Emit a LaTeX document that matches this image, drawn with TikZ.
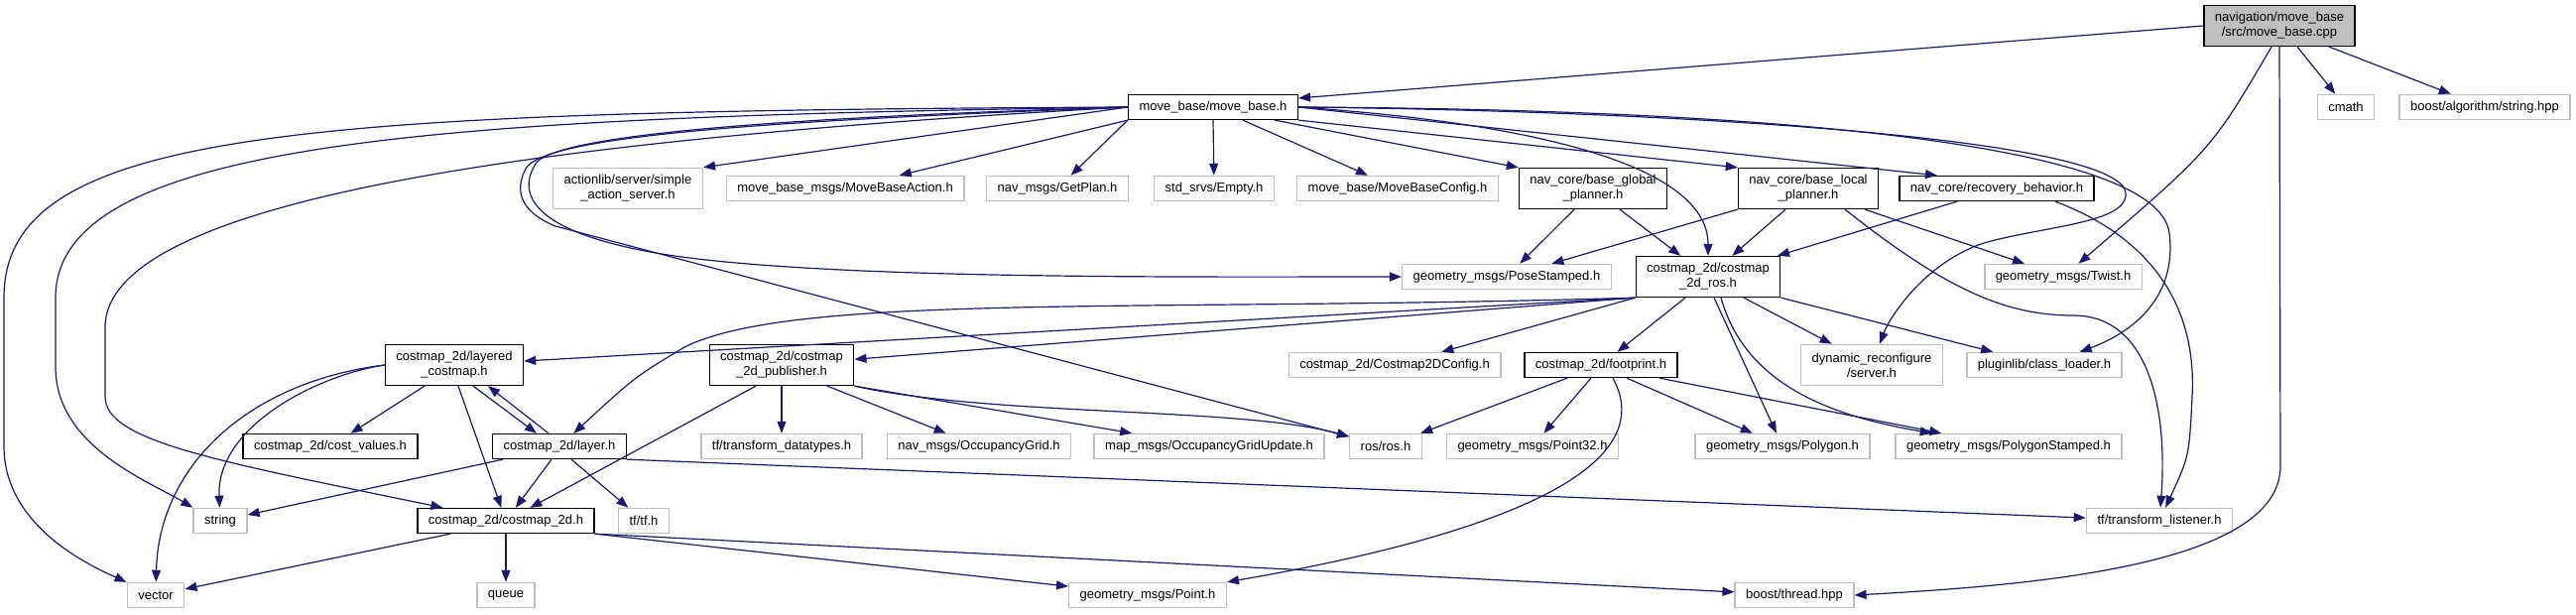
\documentclass[tikz,border=0pt]{standalone}
\usepackage{fontspec}
\setmainfont{Liberation Sans}
\usetikzlibrary{arrows.meta}
\definecolor{edgec}{RGB}{25,25,112}
\definecolor{extc}{RGB}{191,191,191}
\definecolor{rootc}{RGB}{191,191,191}
\begin{document}
\begin{tikzpicture}[x=1pt,y=-1pt,>={Triangle[length=12pt,width=9pt]},font=\fontsize{13}{15}\selectfont]
\tikzset{fb/.style={draw=black,line width=1.3pt,fill=white,inner xsep=11pt,inner ysep=2pt,minimum height=25pt,align=center},
  ext/.style={fb,draw=extc,line width=1.5pt},root/.style={fb,fill=rootc},dbl/.style={minimum height=41pt},
  edge/.style={->,draw=edgec,line width=1.2pt}}
\fill[white] (0,0) rectangle (2597,619);
\useasboundingbox (0,0) rectangle (2597,619);
% files
\node[root,dbl] (cpp) at (2298,26) {navigation/move\_base\\/src/move\_base.cpp};
\node[ext] (cmath) at (2365,108) {cmath};
\node[ext] (bstr) at (2505,108) {boost/algorithm/string.hpp};
\node[fb] (mbh) at (1223,108) {move\_base/move\_base.h};
\node[ext,dbl] (asrv) at (633,190) {actionlib/server/simple\\\_action\_server.h};
\node[ext] (mbact) at (852,190) {move\_base\_msgs/MoveBaseAction.h};
\node[ext] (gplan) at (1066,190) {nav\_msgs/GetPlan.h};
\node[ext] (empty) at (1224,190) {std\_srvs/Empty.h};
\node[ext] (mbcfg) at (1409,190) {move\_base/MoveBaseConfig.h};
\node[fb,dbl] (gplnr) at (1606,190) {nav\_core/base\_global\\\_planner.h};
\node[fb,dbl] (lplnr) at (1823,190) {nav\_core/base\_local\\\_planner.h};
\node[fb] (recov) at (2013,190) {nav\_core/recovery\_behavior.h};
\node[ext] (pose) at (1519,279) {geometry\_msgs/PoseStamped.h};
\node[fb,dbl] (cros) at (1722,279) {costmap\_2d/costmap\\\_2d\_ros.h};
\node[ext] (twist) at (2080,279) {geometry\_msgs/Twist.h};
\node[fb,dbl] (lcost) at (458,368) {costmap\_2d/layered\\\_costmap.h};
\node[fb,dbl] (pub) at (788,368) {costmap\_2d/costmap\\\_2d\_publisher.h};
\node[ext] (c2dcfg) at (1406,368) {costmap\_2d/Costmap2DConfig.h};
\node[fb] (fprint) at (1614,368) {costmap\_2d/footprint.h};
\node[ext,dbl] (dynr) at (1887,368) {dynamic\_reconfigure\\/server.h};
\node[ext] (plug) at (2061,368) {pluginlib/class\_loader.h};
\node[fb] (cval) at (333,450) {costmap\_2d/cost\_values.h};
\node[fb] (layer) at (564,450) {costmap\_2d/layer.h};
\node[ext] (tfdt) at (788,450) {tf/transform\_datatypes.h};
\node[ext] (ogrid) at (987,450) {nav\_msgs/OccupancyGrid.h};
\node[ext] (ogu) at (1219,450) {map\_msgs/OccupancyGridUpdate.h};
\node[ext] (ros) at (1397,450) {ros/ros.h};
\node[ext] (p32) at (1545,450) {geometry\_msgs/Point32.h};
\node[ext] (poly) at (1797,450) {geometry\_msgs/Polygon.h};
\node[ext] (polys) at (2025,450) {geometry\_msgs/PolygonStamped.h};
\node[ext] (str) at (222,525) {string};
\node[fb] (c2d) at (510,525) {costmap\_2d/costmap\_2d.h};
\node[ext] (tftf) at (649,525) {tf/tf.h};
\node[ext] (tfl) at (2177,525) {tf/transform\_listener.h};
\node[ext] (vec) at (157,600) {vector};
\node[ext] (queue) at (510,600) {queue};
\node[ext] (point) at (1157,600) {geometry\_msgs/Point.h};
\node[ext] (thread) at (1809,600) {boost/thread.hpp};
% includes of move_base.cpp
\draw[edge] (cpp.west) -- (mbh.6);
\draw[edge] ([xshift=18pt]cpp.south) -- (cmath);
\draw[edge] ([xshift=50pt]cpp.south) -- (bstr);
\draw[edge] ([xshift=-8pt]cpp.south) .. controls (2230,150) .. (twist);
\draw[edge] (cpp.south) -- (2299,470) .. controls (2299,570) and (2050,590) .. (thread.east);
% includes of move_base.h
\draw[edge] (mbh.west) .. controls (300,112) and (4,130) .. (4,300) -- (4,450) .. controls (4,530) and (90,570) .. (vec);
\draw[edge] (mbh.west) .. controls (450,118) and (56,140) .. (56,300) -- (56,370) .. controls (56,450) and (150,485) .. (str.north west);
\draw[edge] (mbh.west) .. controls (550,140) and (106,200) .. (106,330) -- (106,400) .. controls (106,445) and (220,465) .. (c2d);
\draw[edge] (mbh.west) .. controls (800,118) and (560,135) .. (540,165) .. controls (518,200) and (545,238) .. (680,258) .. controls (850,282) and (1200,279) .. (pose);
\draw[edge] (mbh.west) .. controls (800,121) and (550,135) .. (530,170) .. controls (517,195) and (528,215) .. (560,228) -- (ros);
\draw[edge] (mbh.west) -- (asrv.north east);
\draw[edge] (mbh.south west) -- (mbact);
\draw[edge] (mbh.south west) -- (gplan);
\draw[edge] (mbh.south) -- (empty);
\draw[edge] ([xshift=30pt]mbh.south) -- (mbcfg);
\draw[edge] ([xshift=62pt]mbh.south) -- (gplnr.north west);
\draw[edge] (mbh.south east) -- (lplnr.north west);
\draw[edge] (mbh.east) -- ([xshift=-60pt]recov.north);
\draw[edge] (mbh.east) .. controls (1560,125) and (1722,170) .. (cros);
\draw[edge] (mbh.east) .. controls (1700,112) and (2140,140) .. (2143,195) .. controls (2145,225) and (2060,228) .. (2000,245) .. controls (1940,265) and (1905,320) .. (dynr);
\draw[edge] (mbh.east) .. controls (1750,110) and (2175,140) .. (2187,235) .. controls (2195,300) and (2150,335) .. (plug);
% nav_core
\draw[edge] ([xshift=-19pt]gplnr.south) -- (pose);
\draw[edge] ([xshift=27pt]gplnr.south) -- (cros);
\draw[edge] (lplnr.south west) -- (pose);
\draw[edge] ([xshift=-23pt]lplnr.south) -- (cros);
\draw[edge] ([xshift=57pt]lplnr.south) -- (twist);
\draw[edge] ([xshift=37pt]lplnr.south) .. controls (1960,290) and (2020,318) .. (2090,318) .. controls (2170,318) and (2185,420) .. (tfl);
\draw[edge] ([xshift=-40pt]recov.south) -- (cros);
\draw[edge] ([xshift=59pt]recov.south) .. controls (2170,240) and (2215,310) .. (2210,400) .. controls (2207,460) .. (tfl);
% costmap_2d_ros.h
\draw[edge] (cros.south west) -- (lcost);
\draw[edge] (cros.south west) .. controls (1150,315) and (800,295) .. (690,350) .. controls (640,380) .. (layer);
\draw[edge] (cros.south west) -- (pub);
\draw[edge] (cros.south west) -- (c2dcfg);
\draw[edge] ([xshift=-23pt]cros.south) -- (fprint);
\draw[edge] ([xshift=6pt]cros.south) -- (poly);
\draw[edge] ([xshift=13pt]cros.south) .. controls (1760,390) and (1850,420) .. (polys);
\draw[edge] ([xshift=36pt]cros.south) -- (dynr);
\draw[edge] (cros.south east) -- (plug);
% footprint.h
\draw[edge] ([xshift=-34pt]fprint.south) -- (ros);
\draw[edge] ([xshift=-10pt]fprint.south) -- (p32);
\draw[edge] ([xshift=12pt]fprint.south) .. controls (1680,480) and (1480,545) .. (point.north east);
\draw[edge] ([xshift=26pt]fprint.south) -- (poly);
\draw[edge] ([xshift=59pt]fprint.south) -- (polys);
% costmap_2d_publisher.h
\draw[edge] ([xshift=-26pt]pub.south) -- (c2d);
\draw[edge] (pub) -- (tfdt);
\draw[edge] ([xshift=46pt]pub.south) -- (ogrid);
\draw[edge] (pub.south east) -- (ogu);
\draw[edge] (pub.south east) .. controls (1000,420) and (1250,410) .. (ros);
% layered_costmap.h and layer.h
\draw[edge] ([xshift=-30pt]lcost.south) -- (cval);
\draw[edge] ([xshift=4pt]lcost.south) -- (c2d);
\draw[edge] ([xshift=19pt]lcost.south) -- ([xshift=-23pt]layer.north);
\draw[edge] ([xshift=-11pt]layer.north) -- ([xshift=34pt]lcost.south);
\draw[edge] (lcost.west) .. controls (320,378) and (218,430) .. (str);
\draw[edge] (lcost.west) .. controls (250,385) and (160,470) .. (vec);
\draw[edge] ([xshift=-57pt]layer.south) -- (str);
\draw[edge] ([xshift=-8pt]layer.south) -- (c2d);
\draw[edge] ([xshift=12pt]layer.south) -- (tftf);
\draw[edge] (layer.south east) -- (tfl);
% costmap_2d.h
\draw[edge] ([xshift=-56pt]c2d.south) -- (vec);
\draw[edge] (c2d) -- (queue);
\draw[edge] (c2d.south east) -- (point);
\draw[edge] (c2d.south east) -- (thread);
\end{tikzpicture}
\end{document}
